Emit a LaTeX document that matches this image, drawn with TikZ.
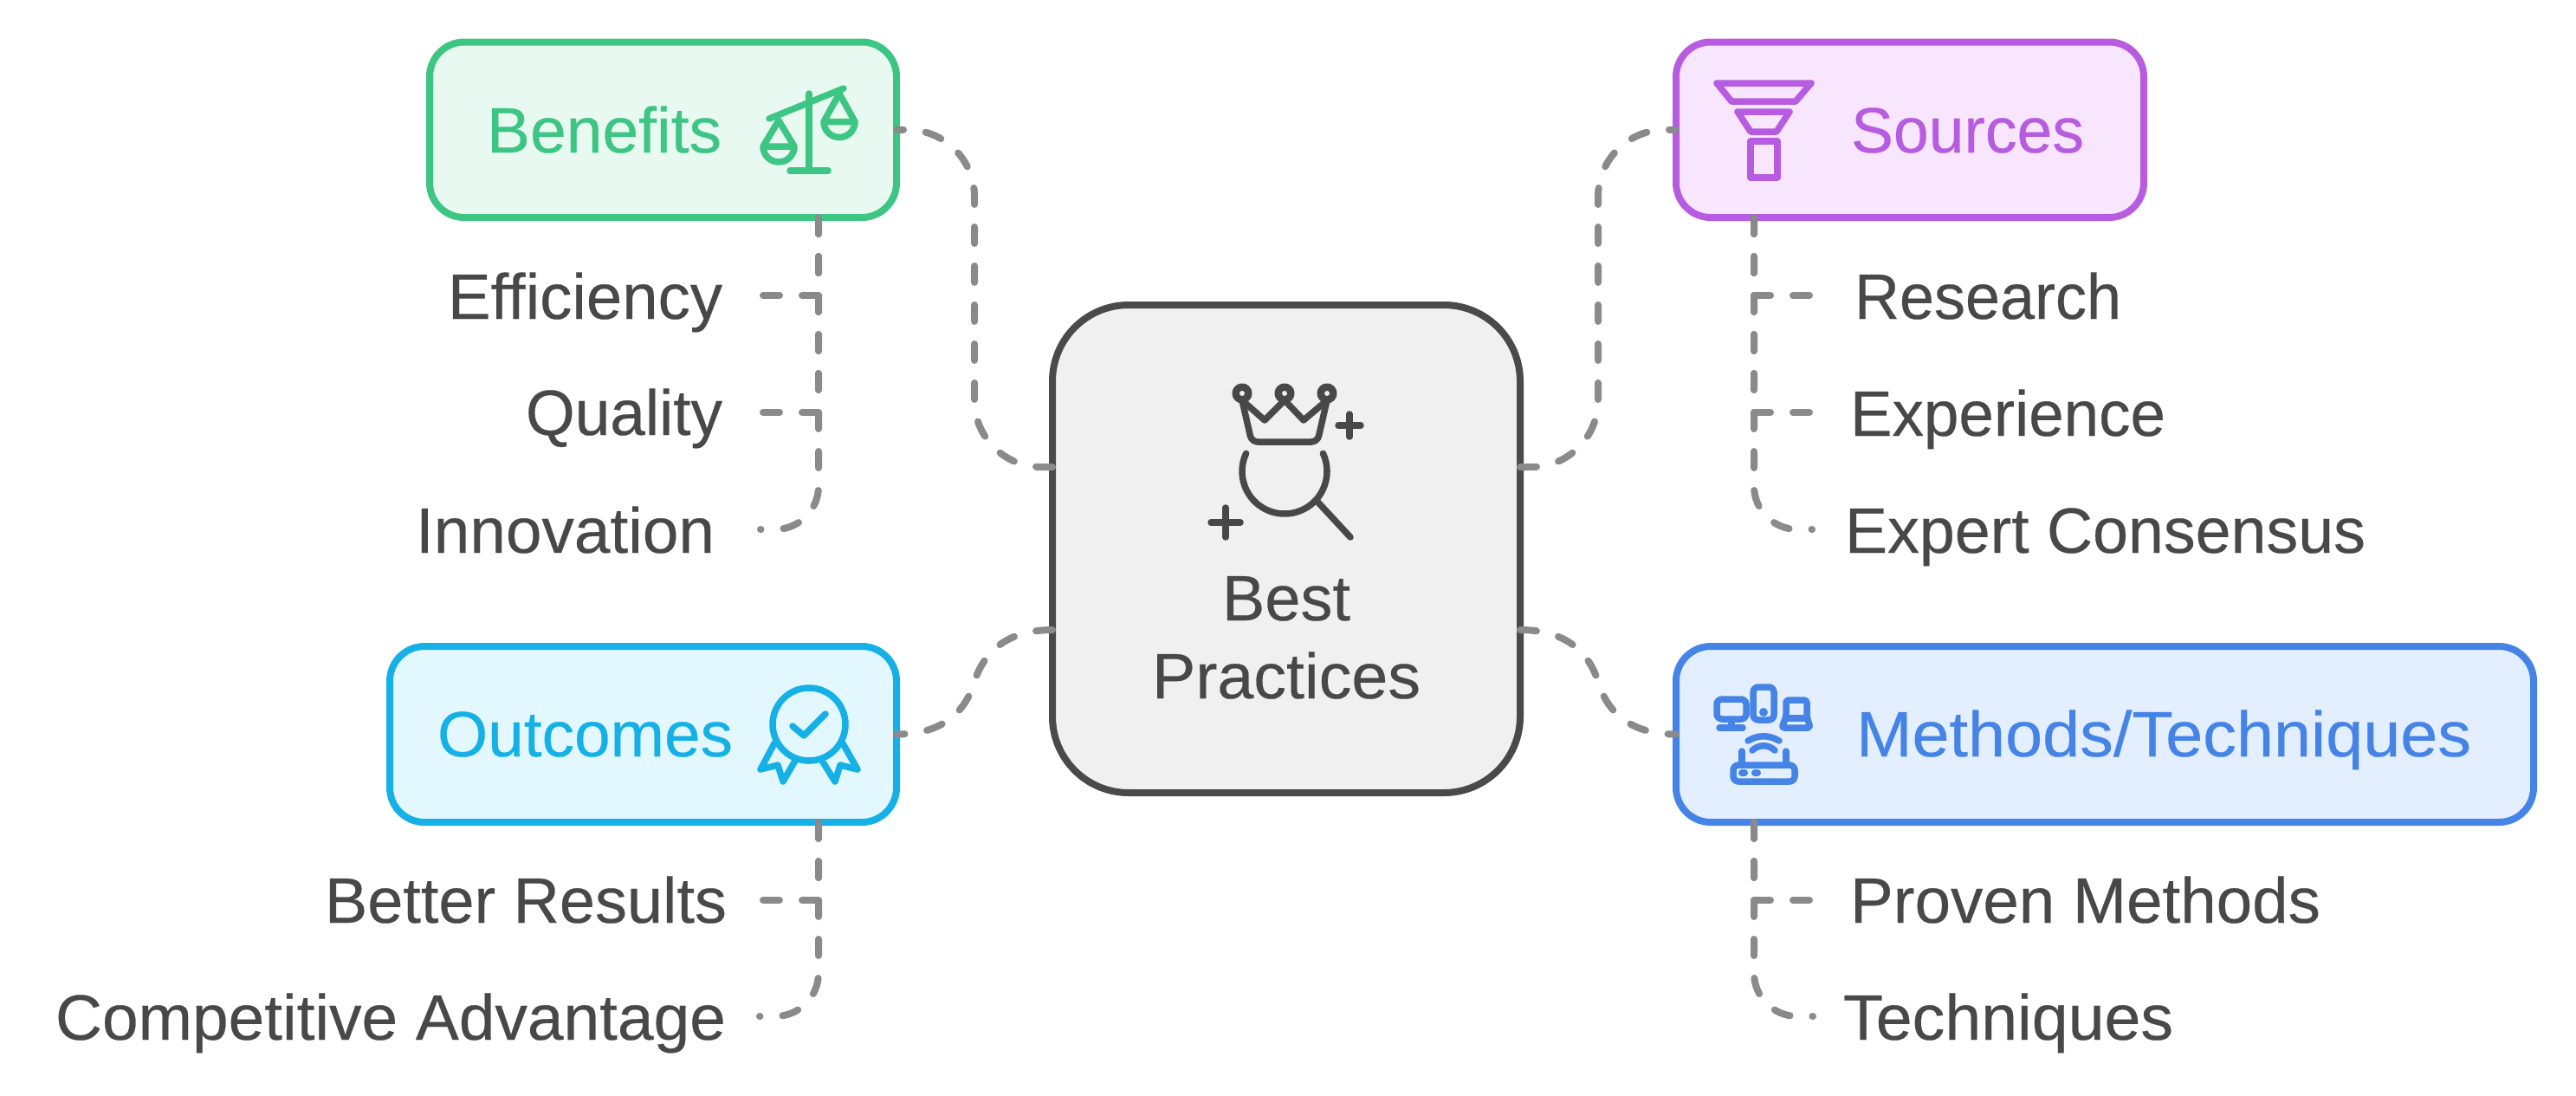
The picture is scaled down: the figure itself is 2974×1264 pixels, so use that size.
\documentclass[tikz,border=0pt]{standalone}
\usepackage{fontspec}
\usepackage{graphicx}
\setmainfont[FakeBold=0.3]{Liberation Sans}
\definecolor{ink}{HTML}{484848}
\definecolor{dashc}{HTML}{8A8A8A}
\definecolor{gS}{HTML}{3CC583}\definecolor{gF}{HTML}{E7F9F0}
\definecolor{pS}{HTML}{B75CE0}\definecolor{pF}{HTML}{F7E6FD}
\definecolor{cS}{HTML}{15B1E6}\definecolor{cF}{HTML}{E3F8FE}
\definecolor{bS}{HTML}{4584E6}\definecolor{bF}{HTML}{E3EEFE}
\definecolor{hubS}{HTML}{4A4A4A}\definecolor{hubF}{HTML}{F0F0F0}
\newcommand{\fitw}[2]{\resizebox{#1}{\height}{#2}}
\tikzset{
  card/.style={draw=#1S,fill=#1F,line width=8pt,rounded corners=40pt,outer sep=0pt,inner sep=0pt},
  hub/.style={draw=hubS,fill=hubF,line width=8pt,rounded corners=88pt,outer sep=0pt,inner sep=0pt,minimum width=540pt,minimum height=563pt},
  link/.style={draw=dashc,line width=8pt,line cap=round,dash pattern=on 19pt off 26pt},
  txt/.style={inner sep=0pt,outer sep=0pt,font=\fontsize{74pt}{80pt}\selectfont},
  ltitem/.style={txt,text=ink,anchor=base east,outer xsep=#1,text height=54pt,text depth=0pt},
  rtitem/.style={txt,text=ink,anchor=base west,outer xsep=#1,text height=54pt,text depth=0pt},
  icon/.style={draw=#1,line width=7.5pt,line cap=round,line join=round},
}
\begin{document}
\begin{tikzpicture}[x=1pt,y=1pt,yscale=-1]
\useasboundingbox (0,0) rectangle (2974,1264);
% boxes
\node[hub] (c) at (1485,633.5) {};
\node[card=g,minimum width=539pt,minimum height=202.5pt] (b) at (765.5,149.75) {};
\node[card=p,minimum width=540pt,minimum height=202.5pt] (s) at (2205,149.75) {};
\node[card=c,minimum width=585pt,minimum height=203pt] (o) at (742.5,847.5) {};
\node[card=b,minimum width=990pt,minimum height=203pt] (m) at (2430,847.5) {};
% titles
\node[txt,text=gS,anchor=base west] (tb) at (562,176) {\fitw{271pt}{Benefits}};
\node[txt,text=pS,anchor=base west] (ts) at (2137,176) {\fitw{269pt}{Sources}};
\node[txt,text=cS,anchor=base west] (to) at (505,873) {\fitw{341pt}{Outcomes}};
\node[txt,text=bS,anchor=base west] (tm) at (2143,873) {\fitw{710pt}{Methods/Techniques}};
\node[txt,text=ink,anchor=base] (tc1) at (1485,716) {\fitw{148pt}{Best}};
\node[txt,text=ink,anchor=base] (tc2) at (1485,806) {\fitw{310pt}{Practices}};
% items
\node[ltitem=44pt] (i1) at (878,368) {\fitw{317pt}{Efficiency}};
\node[ltitem=44pt,text height=52pt] (i2) at (878,502) {\fitw{227pt}{Quality}};
\node[ltitem=53pt] (i3) at (878,638) {\fitw{345pt}{Innovation}};
\node[ltitem=38pt,text height=52pt] (i4) at (877,1065) {\fitw{464pt}{Better Results}};
\node[ltitem=39pt] (i5) at (877,1200) {\fitw{774pt}{Competitive Advantage}};
\node[rtitem=49pt] (j1) at (2092,368) {\fitw{308pt}{Research}};
\node[rtitem=44pt] (j2) at (2092,503) {\fitw{364pt}{Experience}};
\node[rtitem=38pt] (j3) at (2092,638) {\fitw{601pt}{Expert Consensus}};
\node[rtitem=44pt,text height=52pt] (j4) at (2092,1065) {\fitw{543pt}{Proven Methods}};
\node[rtitem=35pt] (j5) at (2093,1200) {\fitw{381pt}{Techniques}};
% anchors on the hub and cards
\coordinate (cw1) at (1215,539);
\coordinate (cw2) at (1215,727);
\coordinate (ce1) at (1755,539);
\coordinate (ce2) at (1755,727);
\coordinate (bd) at (945,251);
\coordinate (sd) at (2025,251);
\coordinate (od) at (945,949);
\coordinate (md) at (2025,949);
% connectors
\draw[link,rounded corners=77pt] (cw1) -- (1125,539) -- (1125,150) -- (b.east);
\draw[link,rounded corners=77pt] (ce1) -- (1845,539) -- (1845,150) -- (s.west);
\draw[link] (cw2) .. controls (1160,727) and (1135,755) .. (1125,787) .. controls (1115,820) and (1090,847.5) .. (o.east);
\draw[link] (ce2) .. controls (1810,727) and (1835,755) .. (1845,787) .. controls (1855,820) and (1880,847.5) .. (m.west);
\draw[link] (bd) |- (i1.east);
\draw[link] (bd) |- (i2.east);
\draw[link,rounded corners=50pt] (bd) |- (i3.east);
\draw[link] (sd) |- (j1.west);
\draw[link] (sd) |- (j2.west);
\draw[link,rounded corners=50pt] (sd) |- (j3.west);
\draw[link] (od) |- (i4.east);
\draw[link,rounded corners=50pt] (od) |- (i5.east);
\draw[link] (md) |- (j4.west);
\draw[link,rounded corners=50pt] (md) |- (j5.west);
% scales icon
\begin{scope}[icon=gS]
\draw (888,137) -- (974,102);
\draw (934,108) -- (934,197);
\draw (912,197) -- (956,197);
\draw (881,169) -- (899,139) -- (917,169) -- cycle;
\draw (881,169) arc[start angle=180,end angle=0,radius=18pt];
\draw (951,140.5) -- (969,108) -- (987,140.5) -- cycle;
\draw (951,140.5) arc[start angle=180,end angle=0,radius=18pt];
\end{scope}
% funnel icon
\begin{scope}[icon=pS]
\draw (1982,96) -- (2091,96) -- (2073,117) -- (1999,117) -- cycle;
\draw (2006,129) -- (2066,129) -- (2051,152) -- (2021,152) -- cycle;
\draw (2021,163) rectangle (2052,205);
\end{scope}
% award icon
\begin{scope}[icon=cS]
\draw (934,836) circle[radius=42pt];
\draw (915,838) -- (928,849) -- (953,824);
\draw (894,858) -- (878,888) -- (898,883) -- (904,902) -- (918,878);
\draw (973,858) -- (990,888) -- (970,883) -- (964,902) -- (949,878);
\end{scope}
% devices icon
\begin{scope}[icon=bS]
\draw[rounded corners=6pt] (1982,807) rectangle (2016,830);
\draw (1985,840) -- (2012,840);
\draw (1999,830) -- (1999,840);
\draw[rounded corners=6pt] (2024,793) rectangle (2048,831);
\fill[bS,draw=none] (2036,822) circle[radius=5pt];
\draw[rounded corners=3pt] (2062,808) -- (2086,808) -- (2086,827) -- (2090,840) -- (2057,840) -- (2062,827) -- cycle;
\draw (2062,829) -- (2086,829);
\draw (2018,855) .. controls (2030,848) and (2042,848) .. (2054,855);
\draw (2023,866) .. controls (2031,859) and (2041,859) .. (2049,866);
\draw[rounded corners=6pt] (2001,883) rectangle (2072,902);
\draw (2011,867) -- (2011,883);
\draw (2062,867) -- (2062,883);
\draw[line width=8pt] (2011,892) -- (2014,892);
\draw[line width=8pt] (2026,892) -- (2029,892);
\end{scope}
% crown and magnifier icon
\begin{scope}[icon=ink]
\draw[line width=8.5pt] (1434,454) circle[radius=7.3pt];
\draw[line width=8.5pt] (1483,454) circle[radius=7.3pt];
\draw[line width=8.5pt] (1532,454) circle[radius=7.3pt];
\draw[rounded corners=7pt] (1434,462) -- (1445,510) -- (1521,510) -- (1532,462);
\draw (1434,462) -- (1460,485) -- (1483,462) -- (1505,485) -- (1532,462);
\draw (1545,491) -- (1571,491);
\draw (1558,478) -- (1558,504);
\draw (1398,603) -- (1432,603);
\draw (1415,586) -- (1415,620);
\draw (1438.6,523.3) arc[start angle=205,end angle=-25,radius=49pt];
\draw (1521,579) -- (1559,620);
\end{scope}
\end{tikzpicture}
\end{document}
